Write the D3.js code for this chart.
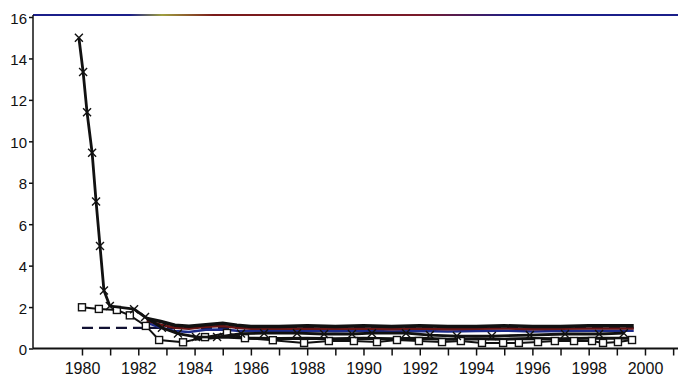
<!DOCTYPE html>
<html>
<head>
<meta charset="utf-8">
<script src="https://d3js.org/d3.v7.min.js"></script>
<style>
  html, body { margin: 0; padding: 0; background: #fff; }
  svg { display: block; }
  .axis text { font-family: "Liberation Sans", Arial, sans-serif; fill: #111; }
  .axis path, .axis line { stroke: #111; }
</style>
</head>
<body>
<svg width="678" height="377"></svg>
<script>
// series (decimal year, value)
var crossYears = [1979.89, 1980.04, 1980.18, 1980.36, 1980.5, 1980.64, 1980.78, 1980.99, 1981.85, 1982.24,
  1982.84, 1983.41, 1984.05, 1984.8, 1985.65, 1986.47, 1987.64, 1988.6, 1989.59, 1990.3,
  1991.51, 1992.36, 1993.32, 1994.56, 1995.91, 1997.16, 1998.37, 1999.25];
var crossValues = [15.0, 13.35, 11.4, 9.45, 7.1, 4.95, 2.8, 2.05, 1.9, 1.52,
  1.0, 0.72, 0.56, 0.55, 0.72, 0.74, 0.74, 0.7, 0.7, 0.74,
  0.74, 0.65, 0.6, 0.6, 0.65, 0.7, 0.7, 0.74];

var squareYears = [1980.0, 1980.6, 1981.24, 1981.7, 1982.27, 1982.74, 1983.59, 1984.37, 1985.15, 1985.79,
  1986.78, 1987.89, 1988.77, 1989.66, 1990.48, 1991.19, 1991.97, 1992.79, 1993.46, 1994.21,
  1994.96, 1995.52, 1996.2, 1996.8, 1997.48, 1998.12, 1998.51, 1999.04, 1999.54];
var squareValues = [1.99, 1.91, 1.86, 1.6, 1.09, 0.41, 0.3, 0.55, 0.75, 0.5,
  0.4, 0.27, 0.36, 0.36, 0.31, 0.41, 0.36, 0.31, 0.36, 0.27,
  0.27, 0.27, 0.31, 0.36, 0.36, 0.36, 0.27, 0.31, 0.41];

var bandYears = [1982.3, 1982.8, 1983.3, 1983.8, 1984.4, 1985.0, 1985.5, 1986.0, 1987.0, 1988.0,
  1989.0, 1990.0, 1991.0, 1992.0, 1993.0, 1994.0, 1995.0, 1996.0, 1997.0, 1998.0, 1999.6];
var upperValues = [1.45, 1.3, 1.12, 1.08, 1.15, 1.22, 1.12, 1.06, 1.06, 1.1,
  1.06, 1.1, 1.06, 1.1, 1.06, 1.06, 1.1, 1.06, 1.06, 1.1, 1.1];
var middleValues = [1.35, 1.15, 1.0, 0.95, 1.05, 1.08, 1.0, 0.95, 0.95, 0.97,
  0.95, 0.97, 0.93, 0.97, 0.93, 0.95, 0.97, 0.93, 0.95, 0.97, 0.97];
var innerValues = [1.25, 1.0, 0.85, 0.8, 0.9, 0.92, 0.86, 0.84, 0.84, 0.86,
  0.83, 0.86, 0.82, 0.85, 0.82, 0.84, 0.86, 0.82, 0.84, 0.86, 0.86];
var lowerYears = [1984.0, 1985.0, 1986.0, 1987.0, 1988.0, 1989.0, 1990.0, 1991.0, 1992.0, 1993.0,
  1994.0, 1995.0, 1996.0, 1997.0, 1998.0, 1999.6];
var lowerValues = [0.45, 0.55, 0.5, 0.48, 0.5, 0.47, 0.5, 0.47, 0.5, 0.45,
  0.47, 0.45, 0.48, 0.47, 0.5, 0.5];

var refYears = [1980.0, 1999.6];
var refValues = [1.0, 1.0];

var yTicks = [0, 2, 4, 6, 8, 10, 12, 14, 16];
var xTicks = d3.range(1980, 2002);

var svg = d3.select("svg");

var x = d3.scaleLinear().domain([1978.26, 2002]).range([33, 33 + 23.74 * 28.15]);
var y = d3.scaleLinear().domain([0, 16]).range([348.5, 17]);

var line = d3.line()
    .x(function(d) { return x(d[0]); })
    .y(function(d) { return y(d[1]); });

function pairs(xs, vs) { return xs.map(function(v, i) { return [v, vs[i]]; }); }

// top frame line (scanned, slightly coloured)
var grad = svg.append("defs").append("linearGradient").attr("id", "topline");
[[0, "#1b1f8a"], [0.15, "#1b1f8a"], [0.2, "#a0a040"], [0.28, "#7a1a1a"], [0.6, "#7a1a2a"], [0.75, "#1b1f8a"], [1, "#1b1f8a"]]
  .forEach(function(s) { grad.append("stop").attr("offset", s[0]).attr("stop-color", s[1]); });
svg.append("rect").attr("x", 33).attr("y", 14).attr("width", 645).attr("height", 2).attr("fill", "url(#topline)");

// axes
var yAxis = d3.axisLeft(y).tickValues(yTicks).tickSize(4).tickPadding(2);
svg.append("g").attr("class", "axis").attr("transform", "translate(33,0)").call(yAxis)
  .call(function(g) { g.select(".domain").attr("d", "M0,15V348.5").attr("stroke-width", 1.5); })
  .call(function(g) { g.selectAll(".tick line").attr("stroke-width", 1.5); })
  .selectAll("text").attr("font-size", 15).attr("dy", "0.4em");

var xAxis = d3.axisBottom(x).tickValues(xTicks).tickSize(7).tickPadding(7)
    .tickFormat(function(d) { return d % 2 === 0 ? d : ""; });
svg.append("g").attr("class", "axis").attr("transform", "translate(0,348.5)").call(xAxis)
  .call(function(g) { g.select(".domain").attr("d", "M33,0H678").attr("stroke-width", 2); })
  .call(function(g) { g.selectAll(".tick line").attr("stroke-width", 1.5); })
  .selectAll("text").attr("font-size", 16);

// dashed reference line
svg.append("path").datum(pairs(refYears, refValues)).attr("d", line)
  .attr("fill", "none").attr("stroke", "#111133").attr("stroke-width", 2.2).attr("stroke-dasharray", "11,6");

// band lines
svg.append("path").datum(pairs(lowerYears, lowerValues)).attr("d", line)
  .attr("fill", "none").attr("stroke", "#111").attr("stroke-width", 3);
svg.append("path").datum(pairs(bandYears, innerValues)).attr("d", line)
  .attr("fill", "none").attr("stroke", "#1b2a8a").attr("stroke-width", 2.5);
svg.append("path").datum(pairs(bandYears, middleValues)).attr("d", line)
  .attr("fill", "none").attr("stroke", "#6a1515").attr("stroke-width", 2.5);
svg.append("path").datum(pairs(bandYears, upperValues)).attr("d", line)
  .attr("fill", "none").attr("stroke", "#111").attr("stroke-width", 3.5);

// square series
var sq = pairs(squareYears, squareValues);
svg.append("path").datum(sq).attr("d", line)
  .attr("fill", "none").attr("stroke", "#111").attr("stroke-width", 2);
svg.selectAll(".sq").data(sq).enter().append("rect").attr("class", "sq")
  .attr("x", function(d) { return x(d[0]) - 3.5; })
  .attr("y", function(d) { return y(d[1]) - 3.5; })
  .attr("width", 7).attr("height", 7)
  .attr("fill", "#fff").attr("stroke", "#111").attr("stroke-width", 1.4);

// cross series
var cr = pairs(crossYears, crossValues);
svg.append("path").datum(cr).attr("d", line)
  .attr("fill", "none").attr("stroke", "#111").attr("stroke-width", 2.8);
svg.selectAll(".cr").data(cr).enter().append("path").attr("class", "cr")
  .attr("d", function(d) {
    var cx = x(d[0]), cy = y(d[1]), r = 4;
    return "M" + (cx - r) + "," + (cy - r) + "L" + (cx + r) + "," + (cy + r) +
           "M" + (cx - r) + "," + (cy + r) + "L" + (cx + r) + "," + (cy - r);
  })
  .attr("stroke", "#111").attr("stroke-width", 1.4).attr("fill", "none");
</script>
</body>
</html>
